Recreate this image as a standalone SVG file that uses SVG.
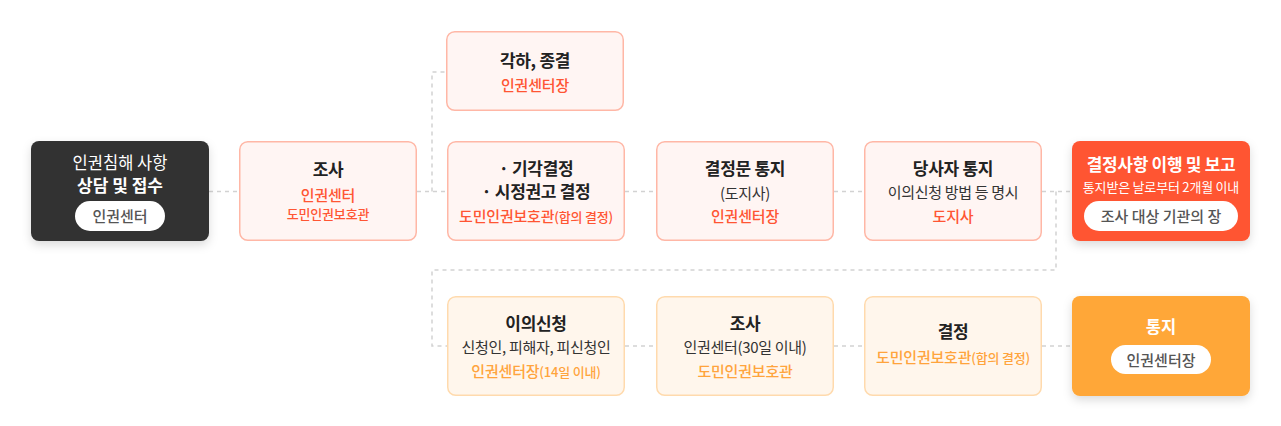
<svg xmlns="http://www.w3.org/2000/svg" width="1281" height="426" viewBox="0 0 1281 426">
<defs>
<filter id="sh" x="-20%" y="-20%" width="140%" height="150%">
<feDropShadow dx="0" dy="4" stdDeviation="5" flood-color="#000" flood-opacity="0.14"/>
</filter>
<style>
text{font-family:"Noto Sans CJK KR","Noto Sans",sans-serif;text-anchor:middle}
.pk{fill:#fff5f3;stroke:#ffb7a6;stroke-width:1.5}
.or{fill:#fff6ec;stroke:#ffdaad;stroke-width:1.5}
.t{font-size:17px;font-weight:700;fill:#222;letter-spacing:-0.3px}
.b{font-size:15px;fill:#333;letter-spacing:-0.3px}
.r{font-size:15px;fill:#ff5533;font-weight:500;letter-spacing:-0.2px}
.o{font-size:15px;fill:#ffa43c;font-weight:500;letter-spacing:-0.2px}
.s{font-size:13px}
.pill{fill:#fff}
.pt{font-size:15px;fill:#555;font-weight:500}
.w{fill:#fff}
.c{fill:none;stroke:#d2d2d2;stroke-width:1.5;stroke-dasharray:4 4}
</style>
</defs>
<g id="connectors">
<path class="c" d="M209 191.5H239"/>
<path class="c" d="M417 191.5H447M432 191.5V72H446"/>
<path class="c" d="M625 191.5H656"/>
<path class="c" d="M834 191.5H864"/>
<path class="c" d="M1042 191.5H1072M1056 191.5V270H432V346H447"/>
<path class="c" d="M625 346H656"/>
<path class="c" d="M834 346H864"/>
<path class="c" d="M1042 346H1072"/>
</g>
<g id="n-intake">
<rect x="31" y="141" width="178" height="100" rx="8" fill="#333" filter="url(#sh)"/>
<text class="w" x="120" y="169" style="font-size:16.5px">인권침해 사항</text>
<text class="w" x="120" y="192" style="font-size:17px;font-weight:700">상담 및 접수</text>
<rect class="pill" x="75" y="201" width="90" height="30" rx="15"/>
<text class="pt" x="120" y="221.5">인권센터</text>
</g>
<g id="n-investigate">
<rect class="pk" x="239.75" y="141.75" width="176.5" height="98.5" rx="8"/>
<text class="t" x="328" y="176">조사</text>
<text class="r" x="328" y="200.5">인권센터</text>
<text class="r" x="328" y="219" style="font-size:13px">도민인권보호관</text>
</g>
<g id="n-dismiss">
<rect class="pk" x="446.75" y="31.75" width="176.5" height="78.5" rx="8"/>
<text class="t" x="535" y="67">각하, 종결</text>
<text class="r" x="535" y="91">인권센터장</text>
</g>
<g id="n-decision">
<rect class="pk" x="447.75" y="141.75" width="176.5" height="98.5" rx="8"/>
<text class="t" x="536" y="175">· 기각결정</text>
<text class="t" x="536" y="197.5">· 시정권고 결정</text>
<text class="r" x="536" y="222">도민인권보호관<tspan class="s">(합의 결정)</tspan></text>
</g>
<g id="n-notice">
<rect class="pk" x="656.75" y="141.75" width="176.5" height="98.5" rx="8"/>
<text class="t" x="745" y="175">결정문 통지</text>
<text class="b" x="745" y="199">(도지사)</text>
<text class="r" x="745" y="222">인권센터장</text>
</g>
<g id="n-party">
<rect class="pk" x="864.75" y="141.75" width="176.5" height="98.5" rx="8"/>
<text class="t" x="953" y="175">당사자 통지</text>
<text class="b" x="953" y="197.5">이의신청 방법 등 명시</text>
<text class="r" x="953" y="222">도지사</text>
</g>
<g id="n-report">
<rect x="1072" y="141" width="178" height="100" rx="8" fill="#ff5533" filter="url(#sh)"/>
<text class="w" x="1161" y="171" style="font-size:17px;font-weight:700;letter-spacing:-0.3px">결정사항 이행 및 보고</text>
<text class="w" x="1161" y="192" style="font-size:13px;letter-spacing:-0.2px">통지받은 날로부터 2개월 이내</text>
<rect class="pill" x="1084" y="201" width="154" height="30" rx="15"/>
<text class="pt" x="1161" y="222">조사 대상 기관의 장</text>
</g>
<g id="n-appeal">
<rect class="or" x="447.75" y="296.75" width="176.5" height="98.5" rx="8"/>
<text class="t" x="536" y="330">이의신청</text>
<text class="b" x="536" y="353">신청인, 피해자, 피신청인</text>
<text class="o" x="536" y="377">인권센터장<tspan class="s">(14일 이내)</tspan></text>
</g>
<g id="n-reinvestigate">
<rect class="or" x="656.75" y="296.75" width="176.5" height="98.5" rx="8"/>
<text class="t" x="745" y="330">조사</text>
<text class="b" x="745" y="353">인권센터(30일 이내)</text>
<text class="o" x="745" y="377">도민인권보호관</text>
</g>
<g id="n-redecide">
<rect class="or" x="864.75" y="296.75" width="176.5" height="98.5" rx="8"/>
<text class="t" x="953" y="338">결정</text>
<text class="o" x="953" y="363">도민인권보호관<tspan class="s">(합의 결정)</tspan></text>
</g>
<g id="n-final">
<rect x="1072" y="296" width="178" height="100" rx="8" fill="#ffa737" filter="url(#sh)"/>
<text class="w" x="1161" y="333" style="font-size:16.5px;font-weight:700">통지</text>
<rect class="pill" x="1111" y="345" width="100" height="29" rx="14.5"/>
<text class="pt" x="1161" y="365.5">인권센터장</text>
</g>
</svg>
